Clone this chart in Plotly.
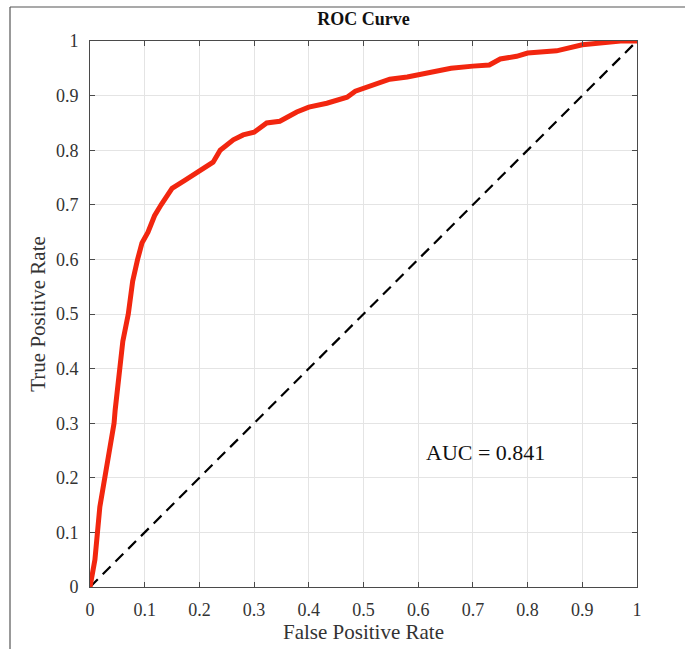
import plotly.graph_objects as go

# ROC curve points
fpr = [0.0, 0.009, 0.018, 0.027, 0.037, 0.040, 0.044, 0.046, 0.052, 0.053, 0.060, 0.070,
       0.078, 0.087, 0.095, 0.106, 0.118, 0.130, 0.150, 0.174, 0.190, 0.205, 0.225,
       0.238, 0.262, 0.280, 0.300, 0.323, 0.347, 0.378, 0.400, 0.433, 0.470, 0.485,
       0.517, 0.548, 0.580, 0.600, 0.630, 0.660, 0.700, 0.730, 0.750, 0.780, 0.800,
       0.853, 0.900, 0.938, 0.970, 1.0]
tpr = [0.0, 0.05, 0.147, 0.20, 0.25, 0.266, 0.30, 0.324, 0.379, 0.40, 0.45, 0.50,
       0.56, 0.60, 0.63, 0.65, 0.68, 0.70, 0.73, 0.745, 0.755, 0.764, 0.778,
       0.80, 0.819, 0.828, 0.833, 0.85, 0.853, 0.87, 0.879, 0.886, 0.897, 0.908,
       0.919, 0.930, 0.934, 0.938, 0.942, 0.950, 0.954, 0.956, 0.967, 0.972, 0.978,
       0.982, 0.993, 0.998, 1.0, 1.0]

diag = [0, 1]
ticks = [0, 0.1, 0.2, 0.3, 0.4, 0.5, 0.6, 0.7, 0.8, 0.9, 1]
tick_text = ["0", "0.1", "0.2", "0.3", "0.4", "0.5", "0.6", "0.7", "0.8", "0.9", "1"]
auc_text = "AUC = 0.841"
auc_pos = (0.61, 0.247)

W, H = 685, 649
ML, MR, MT, MB = 90, 48, 41, 62
PW, PH = W - ML - MR, H - MT - MB

fig = go.Figure()
fig.add_trace(go.Scatter(x=diag, y=diag, mode="lines",
                         line=dict(color="black", width=2.2, dash="11px,7px"),
                         showlegend=False, hoverinfo="skip"))
fig.add_trace(go.Scatter(x=fpr, y=tpr, mode="lines",
                         line=dict(color="#f2260f", width=5),
                         showlegend=False))

font = "Liberation Serif, Times New Roman, serif"
axis_common = dict(range=[0, 1], tickvals=ticks, ticktext=tick_text,
                   showgrid=True, gridcolor="#e4e4e4", gridwidth=1,
                   showline=True, linecolor="#4a4a4a", linewidth=1, mirror="ticks",
                   ticks="inside", ticklen=5, tickcolor="#4a4a4a",
                   zeroline=False,
                   tickfont=dict(family=font, size=18, color="#333333"))

fig.update_layout(
    width=W, height=H,
    margin=dict(l=ML, r=MR, t=MT, b=MB),
    paper_bgcolor="white", plot_bgcolor="white",
    title=dict(text="<b>ROC Curve</b>", x=(ML + PW / 2) / W, xanchor="center",
               y=1 - 19 / H, yanchor="middle",
               font=dict(family=font, size=18, color="#111111")),
    xaxis=dict(**axis_common, ticklabelstandoff=6,
               title=dict(text="False Positive Rate", standoff=2,
                          font=dict(family=font, size=21, color="#333333"))),
    yaxis=dict(**axis_common, ticklabelstandoff=7,
               title=dict(text="True Positive Rate", standoff=4,
                          font=dict(family=font, size=21, color="#333333"))),
    font=dict(family=font),
)

fig.add_annotation(x=auc_pos[0], y=auc_pos[1], xref="x", yref="y", text=auc_text,
                   showarrow=False, xanchor="left", yanchor="middle",
                   font=dict(family=font, size=22, color="#111111"))

# outer frame lines (top and left)
def px_to_paper_x(px):
    return (px - ML) / PW

def px_to_paper_y(py):
    return (H - MB - py) / PH

fig.add_shape(type="line", xref="paper", yref="paper",
              x0=px_to_paper_x(10), x1=px_to_paper_x(W), y0=px_to_paper_y(7), y1=px_to_paper_y(7),
              line=dict(color="#555555", width=1.2))
fig.add_shape(type="line", xref="paper", yref="paper",
              x0=px_to_paper_x(10), x1=px_to_paper_x(10), y0=px_to_paper_y(7), y1=px_to_paper_y(H),
              line=dict(color="#555555", width=1.2))

fig.write_html("out.html")
